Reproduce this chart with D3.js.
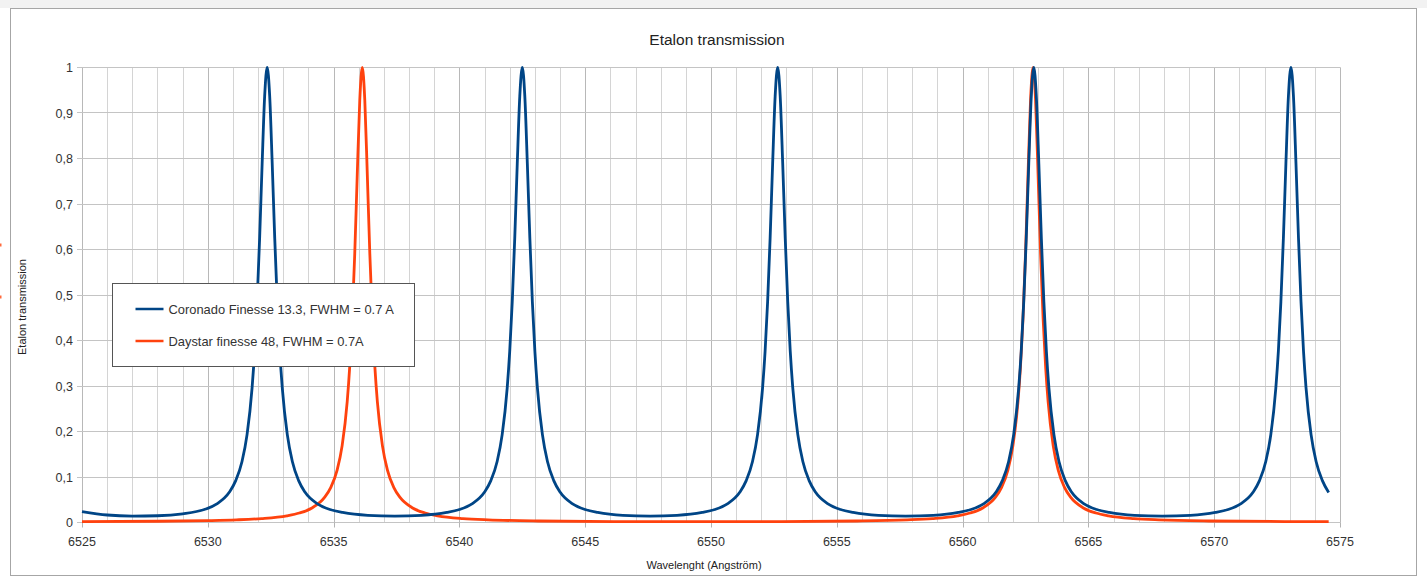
<!DOCTYPE html>
<html>
<head>
<meta charset="utf-8">
<script src="https://cdn.jsdelivr.net/npm/d3@7"></script>
<style>
  body { margin: 0; background: #fff; }
  svg { display: block; font-family: "Liberation Sans", Arial, sans-serif; }
</style>
</head>
<body>
<svg id="chart" width="1427" height="577"></svg>
<script>
var title = 'Etalon transmission'
var xTitle = 'Wavelenght (Angström)'
var yTitle = 'Etalon transmission'
var seriesNames = ['Coronado Finesse 13.3, FWHM = 0.7 A', 'Daystar finesse 48, FWHM = 0.7A']
var seriesColors = ['#004586', '#ff420e']

var xTicks = [6525, 6530, 6535, 6540, 6545, 6550, 6555, 6560, 6565, 6570, 6575]
var yTicks = [0, 0.1, 0.2, 0.3, 0.4, 0.5, 0.6, 0.7, 0.8, 0.9, 1]

// [wavelength, transmission]
var coronado = [
  [6525, .024], [6526, .0165], [6527, .0142], [6528, .0148], [6529, .019],
  [6529.86, .0285], [6530.36, .041], [6530.86, .067], [6531.11, .092], [6531.36, .134],
  [6531.56, .193], [6531.76, .296], [6531.86, .376], [6531.96, .485], [6532.06, .625],
  [6532.16, .789], [6532.26, .937], [6532.36, 1], [6532.46, .937], [6532.56, .789],
  [6532.66, .625], [6532.76, .485], [6532.86, .376], [6532.96, .296], [6533.16, .193],
  [6533.36, .134], [6533.61, .092], [6533.86, .067], [6534.36, .041], [6534.86, .0285],
  [6535.36, .022], [6536.36, .0157], [6537.43, .0141],
  [6538.5, .0157], [6539.5, .022], [6540, .0285], [6540.5, .041], [6541, .067],
  [6541.25, .092], [6541.5, .134], [6541.7, .193], [6541.9, .296], [6542, .376],
  [6542.1, .485], [6542.2, .625], [6542.3, .789], [6542.4, .937], [6542.5, 1],
  [6542.6, .937], [6542.7, .789], [6542.8, .625], [6542.9, .485], [6543, .376],
  [6543.1, .296], [6543.3, .193], [6543.5, .134], [6543.75, .092], [6544, .067],
  [6544.5, .041], [6545, .0285], [6545.5, .022], [6546.5, .0157], [6547.58, .0141],
  [6548.65, .0157], [6549.65, .022], [6550.15, .0285], [6550.65, .041], [6551.15, .067],
  [6551.4, .092], [6551.65, .134], [6551.85, .193], [6552.05, .296], [6552.15, .376],
  [6552.25, .485], [6552.35, .625], [6552.45, .789], [6552.55, .937], [6552.65, 1],
  [6552.75, .937], [6552.85, .789], [6552.95, .625], [6553.05, .485], [6553.15, .376],
  [6553.25, .296], [6553.45, .193], [6553.65, .134], [6553.9, .092], [6554.15, .067],
  [6554.65, .041], [6555.15, .0285], [6555.65, .022], [6556.65, .0157], [6557.74, .0141],
  [6558.83, .0157], [6559.83, .022], [6560.33, .0285], [6560.83, .041], [6561.33, .067],
  [6561.58, .092], [6561.83, .134], [6562.03, .193], [6562.23, .296], [6562.33, .376],
  [6562.43, .485], [6562.53, .625], [6562.63, .789], [6562.73, .937], [6562.83, 1],
  [6562.93, .937], [6563.03, .789], [6563.13, .625], [6563.23, .485], [6563.33, .376],
  [6563.43, .296], [6563.63, .193], [6563.83, .134], [6564.08, .092], [6564.33, .067],
  [6564.83, .041], [6565.33, .0285], [6565.83, .022], [6566.83, .0157], [6567.94, .0141],
  [6569.05, .0157], [6570.05, .022], [6570.55, .0285], [6571.05, .041], [6571.55, .067],
  [6571.8, .092], [6572.05, .134], [6572.25, .193], [6572.45, .296], [6572.55, .376],
  [6572.65, .485], [6572.75, .625], [6572.85, .789], [6572.95, .937], [6573.05, 1],
  [6573.15, .937], [6573.25, .789], [6573.35, .625], [6573.45, .485], [6573.55, .376],
  [6573.65, .296], [6573.85, .193], [6574.05, .134], [6574.3, .092], [6574.55, .066]
]

var daystar = [
  [6525, .002], [6528, .0027], [6530, .0041], [6531.14, .0058], [6532.14, .0087],
  [6533.14, .0148], [6533.64, .0209], [6534.14, .032], [6534.64, .0551], [6534.89, .0772],
  [6535.14, .115], [6535.34, .169], [6535.54, .265], [6535.64, .342], [6535.74, .448],
  [6535.84, .59], [6535.94, .764], [6536.04, .928], [6536.14, 1], [6536.24, .928],
  [6536.34, .764], [6536.44, .59], [6536.54, .448], [6536.64, .342], [6536.74, .265],
  [6536.94, .169], [6537.14, .115], [6537.39, .0772], [6537.64, .0551], [6538.14, .032],
  [6538.64, .0209], [6539.14, .0148], [6540.14, .0087], [6541.14, .0058], [6543.14, .0033],
  [6546.14, .0021], [6549.47, .0018], [6552.8, .0021], [6555.8, .0033], [6557.8, .0058],
  [6558.8, .0087], [6559.8, .0148], [6560.3, .0209], [6560.8, .032], [6561.3, .0551],
  [6561.55, .0772], [6561.8, .115], [6562, .169], [6562.2, .265], [6562.3, .342],
  [6562.4, .448], [6562.5, .59], [6562.6, .764], [6562.7, .928], [6562.8, 1],
  [6562.9, .928], [6563, .764], [6563.1, .59], [6563.2, .448], [6563.3, .342],
  [6563.4, .265], [6563.6, .169], [6563.8, .115], [6564.05, .0772], [6564.3, .0551],
  [6564.8, .032], [6565.3, .0209], [6565.8, .0148], [6566.8, .0087], [6567.8, .0058],
  [6569.8, .0033], [6572.8, .0021], [6574.55, .0019]
]

var svg = d3.select('#chart')
var W = 1427, H = 577
var plot = {left: 82, right: 1340, top: 67.5, bottom: 522.5}

var x = d3.scaleLinear().domain([6525, 6575]).range([plot.left, plot.right])
var y = d3.scaleLinear().domain([0, 1]).range([plot.bottom, plot.top])
var px = v => Math.round(v) + .5

// outer chart frame
svg.append('rect').attr('x', 0).attr('y', 0).attr('width', W).attr('height', 8).attr('fill', '#f2f2f2')
svg.append('rect')
  .attr('x', 10.5).attr('y', 8.5).attr('width', 1406).attr('height', 567)
  .attr('fill', '#fff').attr('stroke', '#a6a6a6')

// cut-off marks at the left edge
svg.selectAll('rect.edge').data([245, 297]).join('rect')
  .attr('class', 'edge')
  .attr('x', 0).attr('y', d => d - 1.5).attr('width', 1.5).attr('height', 3)
  .attr('fill', '#ff6a3d')

// grid
var minor = d3.range(6525, 6576)
svg.append('g').selectAll('line').data(minor).join('line')
  .attr('x1', d => px(x(d))).attr('x2', d => px(x(d)))
  .attr('y1', plot.top).attr('y2', plot.bottom)
  .attr('stroke', d => d % 5 == 0 ? '#b8b8b8' : '#d4d4d4')

svg.append('g').selectAll('line').data(yTicks).join('line')
  .attr('x1', plot.left - 5).attr('x2', px(x(6575)))
  .attr('y1', d => px(y(d) - .5)).attr('y2', d => px(y(d) - .5))
  .attr('stroke', '#c4c4c4')

// x ticks
svg.append('g').selectAll('line').data(xTicks).join('line')
  .attr('x1', d => px(x(d))).attr('x2', d => px(x(d)))
  .attr('y1', plot.bottom).attr('y2', plot.bottom + 5)
  .attr('stroke', '#b3b3b3')

svg.append('g').selectAll('text').data(xTicks).join('text')
  .attr('x', d => x(d)).attr('y', 546)
  .attr('text-anchor', 'middle').attr('font-size', 12.5).attr('fill', '#333')
  .text(d => d)

var fmt = d3.format('.1~f')
svg.append('g').selectAll('text').data(yTicks).join('text')
  .attr('x', 73).attr('y', d => y(d) + 4.5)
  .attr('text-anchor', 'end').attr('font-size', 12.5).attr('fill', '#333')
  .text(d => fmt(d).replace('.', ','))

// series
var line = d3.line().x(d => x(d[0])).y(d => y(d[1])).curve(d3.curveMonotoneX)
var series = [daystar, coronado]
var colors = [seriesColors[1], seriesColors[0]]
svg.append('g').selectAll('path').data(series).join('path')
  .attr('d', line)
  .attr('fill', 'none')
  .attr('stroke', (d, i) => colors[i])
  .attr('stroke-width', 2.8)
  .attr('stroke-linejoin', 'round')

// titles
svg.append('text').text(title)
  .attr('x', 717).attr('y', 45).attr('text-anchor', 'middle')
  .attr('font-size', 15.5).attr('fill', '#222')

svg.append('text').text(xTitle)
  .attr('x', 704).attr('y', 569).attr('text-anchor', 'middle')
  .attr('font-size', 11).attr('fill', '#222')

svg.append('text').text(yTitle)
  .attr('transform', 'translate(26,307) rotate(-90)')
  .attr('text-anchor', 'middle')
  .attr('font-size', 11).attr('fill', '#222')

// legend
var legend = svg.append('g').attr('transform', 'translate(112.5,283.5)')
legend.append('rect')
  .attr('width', 302).attr('height', 83)
  .attr('fill', '#fff').attr('stroke', '#555')

var item = legend.selectAll('g').data(seriesNames).join('g')
  .attr('transform', (d, i) => 'translate(0,' + (25.5 + i * 32) + ')')
item.append('line')
  .attr('x1', 23).attr('x2', 51)
  .attr('stroke', (d, i) => seriesColors[i]).attr('stroke-width', 2.5)
item.append('text').text(d => d)
  .attr('x', 56).attr('y', 4.5)
  .attr('font-size', 12.9).attr('fill', '#333')
</script>
</body>
</html>
